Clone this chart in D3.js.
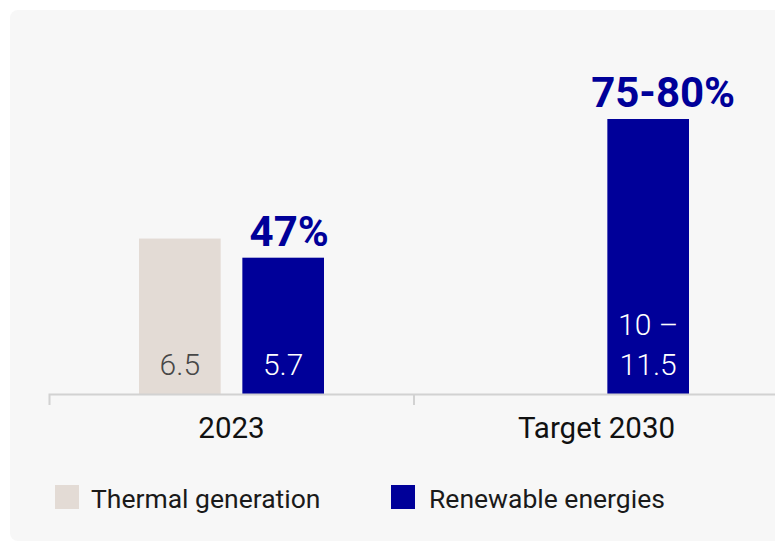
<!DOCTYPE html>
<html>
<head>
<meta charset="utf-8">
<script src="https://cdn.jsdelivr.net/npm/d3@7"></script>
<style>
  html, body { margin: 0; padding: 0; background: #ffffff; }
  svg { display: block; font-family: Roboto, "Noto Sans", sans-serif; }
</style>
</head>
<body>
<svg id="chart" width="775" height="542"></svg>
<script>
// Electricity generation (TWh) by source
const categories = ["2023", "Target 2030"];
const seriesKeys = ["thermal", "renewable"];
const seriesNames = ["Thermal generation", "Renewable energies"];
const thermalValues = [6.5, null];
const renewableValues = [5.7, 11.5];
const thermalLabels = ["6.5", null];
const renewableLabels = [["5.7"], ["10 –", "11.5"]];
const shareLabels = ["47%", "75-80%"];

const colors = { thermal: "#e3dbd5", renewable: "#000099" };

const svg = d3.select("#chart");

// panel background
svg.append("rect")
  .attr("x", 10).attr("y", 10)
  .attr("width", 800).attr("height", 531)
  .attr("rx", 8)
  .attr("fill", "#f7f7f7");

const baseY = 394;
const x = d3.scaleBand().domain(categories).range([49, 779]);
const xSub = d3.scaleBand().domain(seriesKeys).range([90, 275]).paddingInner(0.21);
const y = d3.scaleLinear().domain([0, 11.5]).range([baseY, 119]);

const rows = categories.map((c, i) => ({
  cat: c,
  thermal: thermalValues[i],
  renewable: renewableValues[i],
  thermalLabel: thermalLabels[i],
  renewableLabel: renewableLabels[i],
  share: shareLabels[i]
}));

const groups = svg.append("g").selectAll("g")
  .data(rows).join("g")
  .attr("transform", d => `translate(${x(d.cat)},0)`);

// bars
groups.each(function (d) {
  const g = d3.select(this);
  seriesKeys.forEach(k => {
    if (d[k] == null) return;
    g.append("rect")
      .attr("x", xSub(k))
      .attr("width", xSub.bandwidth())
      .attr("y", y(d[k]))
      .attr("height", y(0) - y(d[k]))
      .attr("fill", colors[k]);
  });
});

// values inside the bars
groups.filter(d => d.thermalLabel != null)
  .append("text")
  .attr("x", xSub("thermal") + xSub.bandwidth() / 2)
  .attr("y", baseY - 19)
  .attr("text-anchor", "middle")
  .attr("font-size", 30).attr("font-weight", 300)
  .attr("fill", "#474747")
  .text(d => d.thermalLabel);

groups.each(function (d) {
  const lines = d.renewableLabel;
  const t = d3.select(this).append("text")
    .attr("text-anchor", "middle")
    .attr("font-size", 30).attr("font-weight", 300)
    .attr("fill", "#ffffff");
  lines.forEach((s, j) => {
    t.append("tspan")
      .attr("x", xSub("renewable") + xSub.bandwidth() / 2)
      .attr("y", baseY - 19 - (lines.length - 1 - j) * 40)
      .text(s);
  });
});

// renewable share labels
groups.append("text")
  .attr("x", xSub("renewable") + xSub.bandwidth() / 2)
  .attr("dx", (d, i) => i === 0 ? 6 : 15)
  .attr("y", d => y(d.renewable) - 12)
  .attr("text-anchor", "middle")
  .attr("font-size", 42).attr("font-weight", 700)
  .attr("fill", "#000099")
  .text(d => d.share);

// axis
const axis = svg.append("g")
  .attr("transform", `translate(0,${baseY})`)
  .call(d3.axisBottom(x).tickSize(0).tickSizeOuter(11).tickPadding(0));
axis.select(".domain").attr("stroke", "#d2d2d2").attr("stroke-width", 2);
axis.selectAll(".tick text")
  .attr("dy", 0).attr("y", 44)
  .attr("font-family", "Roboto, sans-serif")
  .attr("font-size", 29.5)
  .attr("fill", "#111111");
axis.selectAll(".boundary")
  .data(categories.slice(1)).join("line")
  .attr("class", "boundary")
  .attr("x1", d => x(d)).attr("x2", d => x(d))
  .attr("y1", 0).attr("y2", 11)
  .attr("stroke", "#d2d2d2").attr("stroke-width", 2);

// legend
const legendX = [55, 391];
const legend = svg.append("g").selectAll("g")
  .data(seriesKeys).join("g")
  .attr("transform", (d, i) => `translate(${legendX[i]},485)`);
legend.append("rect")
  .attr("width", 24).attr("height", 24)
  .attr("fill", d => colors[d]);
legend.append("text")
  .attr("x", (d, i) => i === 0 ? 36 : 38)
  .attr("y", 23)
  .attr("font-size", 26.5)
  .attr("fill", "#1a1a1a")
  .text((d, i) => seriesNames[i]);
</script>
</body>
</html>
